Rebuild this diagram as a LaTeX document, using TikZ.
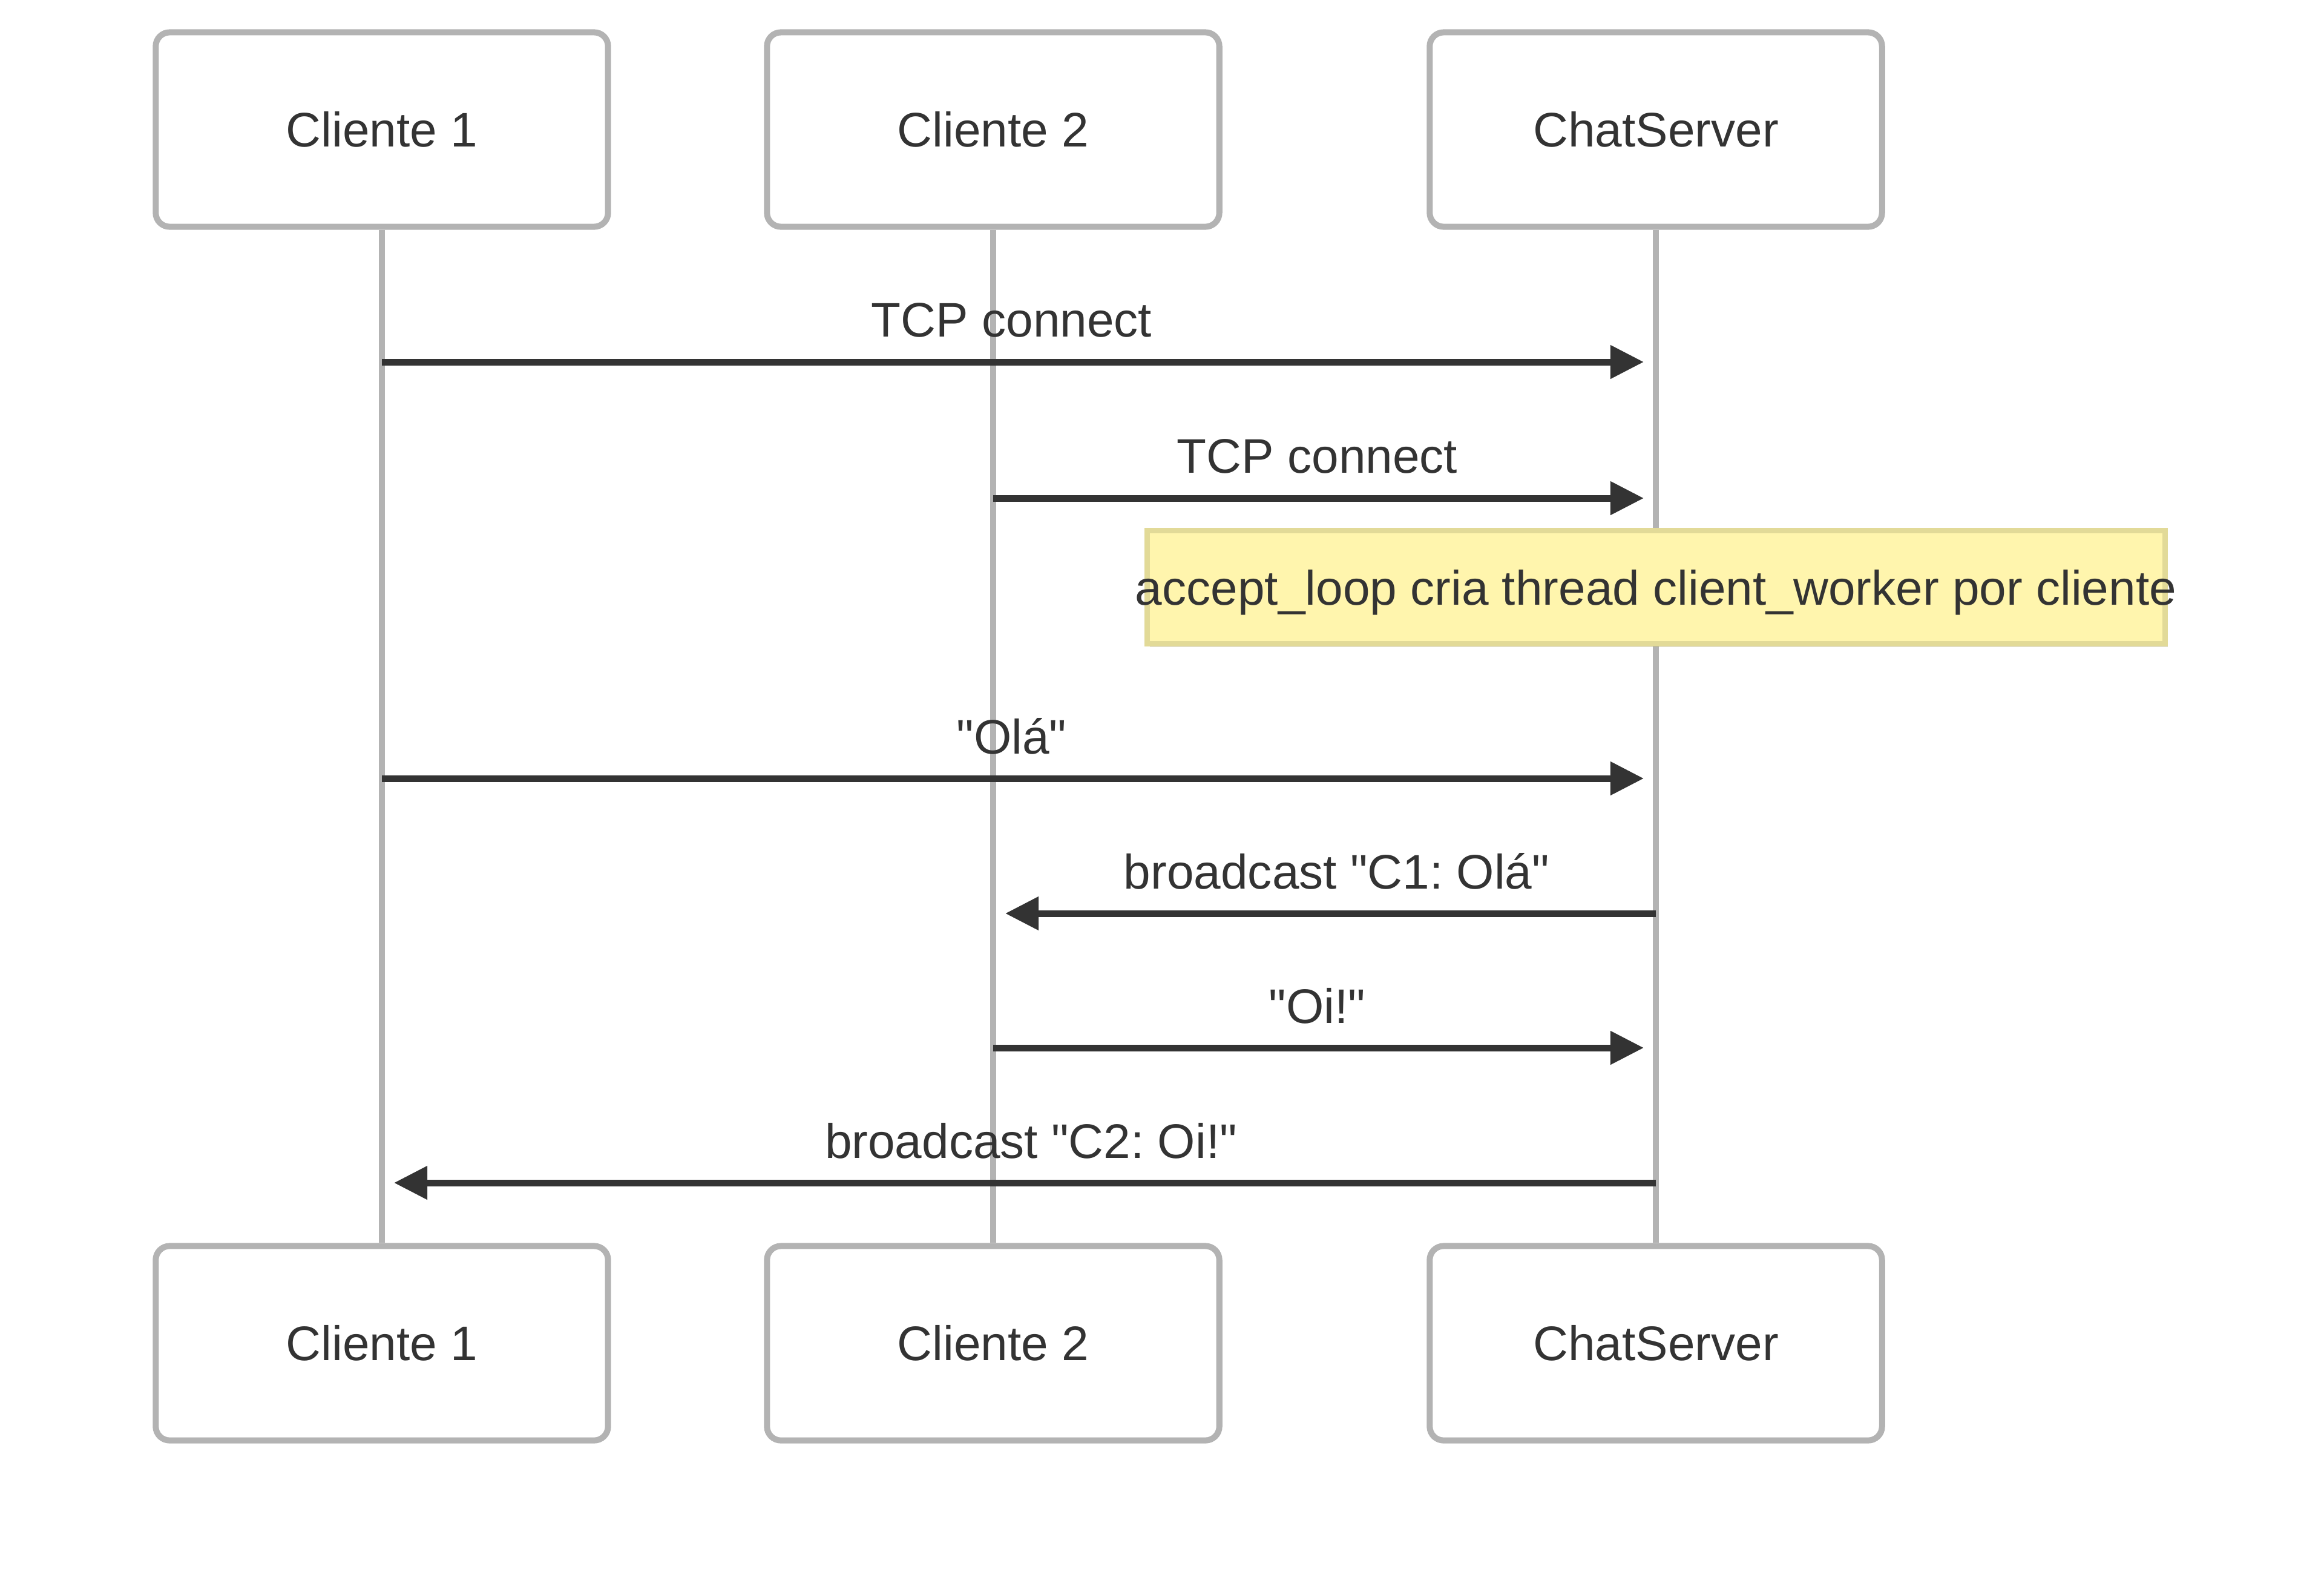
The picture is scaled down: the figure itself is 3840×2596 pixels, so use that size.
\documentclass[tikz,border=0pt]{standalone}
\usepackage{fontspec}
\setmainfont{Liberation Sans}
\usetikzlibrary{arrows.meta,shadows}
\definecolor{actline}{HTML}{B3B3B3}
\definecolor{ink}{HTML}{333333}
\definecolor{notefill}{HTML}{FFF5AD}
\definecolor{noteline}{HTML}{E2DA98}
\newcommand{\q}{\textquotedbl}
\frenchspacing
\begin{document}
\begin{tikzpicture}[x=0.01cm, y=-0.01cm, font=\fontsize{22.8}{27}\selectfont, text=ink,
  act/.style={draw=actline, line width=0.1cm, rounded corners=0.23cm, fill=white, minimum width=7.47cm, minimum height=3.21cm},
  life/.style={draw=actline, line width=0.095cm},
  msg/.style={draw=ink, line width=0.11cm, -{Triangle[length=0.55cm, width=0.53cm]}, shorten >=0.2cm},
  lbl/.style={anchor=base, yshift=0.41cm, inner sep=0pt},
  rl/.style={lbl, xshift=-0.12cm},
  ll/.style={lbl, xshift=0.2cm},
  note/.style={draw=noteline, fill=notefill, line width=0.09cm, inner xsep=0pt, text depth=0pt,
    minimum width=16.81cm, minimum height=1.87cm,
    drop shadow={shadow xshift=0.05cm, shadow yshift=-0.05cm, opacity=0.12, fill=black}}]
  \useasboundingbox (0,0) rectangle (3840,2596);
  % actors
  \node[act] (c1) at (631,214) {Cliente 1};
  \node[act] (c2) at (1641,214) {Cliente 2};
  \node[act] (srv) at (2736,214) {ChatServer};
  \node[act] (c1b) at (631,2219) {Cliente 1};
  \node[act] (c2b) at (1641,2219) {Cliente 2};
  \node[act] (srvb) at (2736,2219) {ChatServer};
  \draw[life] (c1) -- (c1b);
  \draw[life] (c2) -- (c2b);
  \draw[life] (srv) -- (srvb);
  % message rows
  \coordinate (r1) at (0,598);
  \coordinate (r2) at (0,823);
  \coordinate (r3) at (0,1286);
  \coordinate (r4) at (0,1509);
  \coordinate (r5) at (0,1731);
  \coordinate (r6) at (0,1954);
  \draw[msg] (c1 |- r1) -- node[rl] {TCP connect} (srv |- r1);
  \draw[msg] (c2 |- r2) -- node[rl] {TCP connect} (srv |- r2);
  \node[note] (acc) at (2736,970) {\makebox[0pt]{accept\_loop cria thread client\_worker por cliente}};
  \draw[msg] (c1 |- r3) -- node[rl] {\q Olá\q} (srv |- r3);
  \draw[msg] (srv |- r4) -- node[ll] {broadcast \q C1: Olá\q} (c2 |- r4);
  \draw[msg] (c2 |- r5) -- node[rl] {\q Oi!\q} (srv |- r5);
  \draw[msg] (srv |- r6) -- node[ll] {broadcast \q C2: Oi!\q} (c1 |- r6);
\end{tikzpicture}
\end{document}
